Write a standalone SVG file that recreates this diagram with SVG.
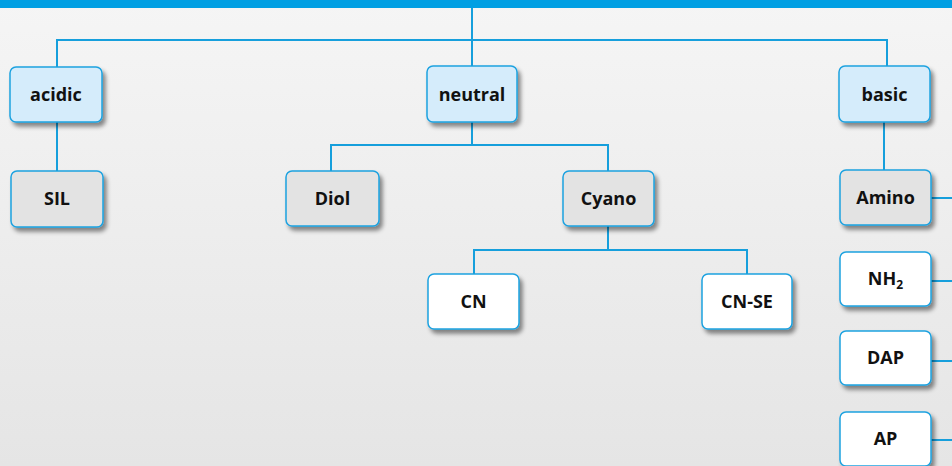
<svg xmlns="http://www.w3.org/2000/svg" width="952" height="466" viewBox="0 0 952 466">
<defs>
<linearGradient id="bg" x1="0" y1="0" x2="0" y2="1">
<stop offset="0" stop-color="#f5f5f5"/>
<stop offset="1" stop-color="#e5e5e5"/>
</linearGradient>
<filter id="sh" x="-20%" y="-20%" width="150%" height="160%">
<feDropShadow dx="3" dy="4" stdDeviation="2" flood-color="#000" flood-opacity="0.45"/>
</filter>
</defs>
<style>
.box{stroke:#1ea2e0;stroke-width:1.5;filter:url(#sh)}
.l1{fill:#d5ecfb}
.l2{fill:#e3e3e3}
.l3{fill:#ffffff}
.t{font-family:"Open Sans","Liberation Sans",sans-serif;font-weight:bold;font-size:18px;fill:#111;text-anchor:middle}
.c{fill:none;stroke:#169fdc;stroke-width:2}
</style>
<rect width="952" height="466" fill="url(#bg)"/>
<rect width="952" height="8" fill="#009fe3"/>
<g id="connectors">
<path class="c" d="M472 8V66"/>
<path class="c" d="M57 67V40H887V66"/>
<path class="c" d="M57 122V171"/>
<path class="c" d="M472 122V145M331 171V145H608V171"/>
<path class="c" d="M608 226V250M474 274V250H747V274"/>
<path class="c" d="M884 122V170"/>
<path class="c" d="M931 198H952M931 281H952M931 361H952M931 440H952"/>
</g>
<g id="acidic"><rect class="box l1" x="10" y="67" width="92" height="55" rx="6"/><text class="t" x="56" y="101">acidic</text></g>
<g id="neutral"><rect class="box l1" x="427" y="66" width="90" height="56" rx="6"/><text class="t" x="472" y="101">neutral</text></g>
<g id="basic"><rect class="box l1" x="839" y="66" width="91" height="56" rx="6"/><text class="t" x="884.5" y="101">basic</text></g>
<g id="SIL"><rect class="box l2" x="11" y="171" width="92" height="56" rx="6"/><text class="t" x="57" y="205">SIL</text></g>
<g id="Diol"><rect class="box l2" x="286" y="171" width="93" height="55" rx="6"/><text class="t" x="332.5" y="205">Diol</text></g>
<g id="Cyano"><rect class="box l2" x="563" y="171" width="91" height="55" rx="6"/><text class="t" x="608.5" y="205">Cyano</text></g>
<g id="Amino"><rect class="box l2" x="840" y="170" width="91" height="55" rx="6"/><text class="t" x="885.5" y="204">Amino</text></g>
<g id="CN"><rect class="box l3" x="428" y="274" width="91" height="55" rx="6"/><text class="t" x="473.5" y="308">CN</text></g>
<g id="CN-SE"><rect class="box l3" x="702" y="274" width="90" height="55" rx="6"/><text class="t" x="747" y="308">CN-SE</text></g>
<g id="NH2"><rect class="box l3" x="840" y="252" width="91" height="54" rx="6"/><text class="t" x="885.5" y="285">NH<tspan font-size="12" dy="4">2</tspan></text></g>
<g id="DAP"><rect class="box l3" x="840" y="331" width="91" height="54" rx="6"/><text class="t" x="885.5" y="364">DAP</text></g>
<g id="AP"><rect class="box l3" x="840" y="412" width="91" height="54" rx="6"/><text class="t" x="885.5" y="445">AP</text></g>
</svg>
